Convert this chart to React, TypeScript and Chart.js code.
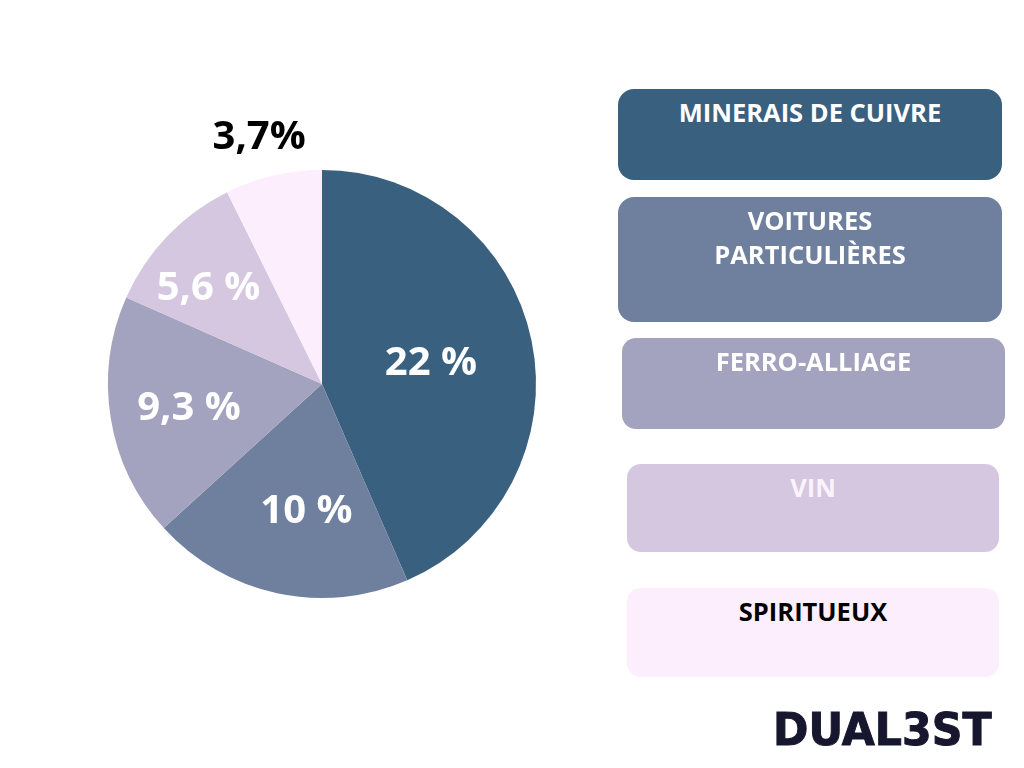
import React, { useEffect, useRef } from "react";
import { Chart, registerables } from "chart.js";

Chart.register(...registerables);

const categories = ["MINERAIS DE CUIVRE", "VOITURES PARTICULIÈRES", "FERRO-ALLIAGE", "VIN", "SPIRITUEUX"];
const legendLines = [["MINERAIS DE CUIVRE"], ["VOITURES", "PARTICULIÈRES"], ["FERRO-ALLIAGE"], ["VIN"], ["SPIRITUEUX"]];
const values = [22, 10, 9.3, 5.6, 3.7];
const valueLabels = ["22 %", "10 %", "9,3 %", "5,6 %", "3,7%"];
const colors = ["#3a607f", "#6f7f9e", "#a3a2bf", "#d5c7e0", "#fdeefd"];
const labelColors = ["#ffffff", "#ffffff", "#ffffff", "#ffffff", "#000000"];
const labelRadiusFactor = [0.52, 0.59, 0.63, 0.7, 1.2];
const labelAngleShiftDeg = [0, -5, 0, -3, -1];
const legendTextColors = ["#ffffff", "#ffffff", "#ffffff", "#fbf3fb", "#000000"];

const legendBoxes = [
  { left: 618, top: 89, width: 384, height: 91, radius: 16 },
  { left: 618, top: 197, width: 384, height: 125, radius: 16 },
  { left: 622, top: 338, width: 383, height: 91, radius: 14 },
  { left: 627, top: 464, width: 372, height: 88, radius: 14 },
  { left: 627, top: 588, width: 372, height: 89, radius: 14 },
];

const FONT = "'Open Sans', 'Noto Sans', sans-serif";

const labelPlugin = {
  id: "sliceLabels",
  afterDatasetsDraw(chart: any) {
    const ctx = chart.ctx;
    const meta = chart.getDatasetMeta(0);
    ctx.save();
    ctx.font = `700 40px ${FONT}`;
    ctx.textAlign = "center";
    ctx.textBaseline = "alphabetic";
    meta.data.forEach((arc: any, i: number) => {
      const { x, y, startAngle, endAngle, outerRadius } = arc.getProps(
        ["x", "y", "startAngle", "endAngle", "outerRadius"],
        true
      );
      const mid = (startAngle + endAngle) / 2 + (labelAngleShiftDeg[i] * Math.PI) / 180;
      const r = outerRadius * labelRadiusFactor[i];
      ctx.fillStyle = labelColors[i];
      ctx.fillText(valueLabels[i], x + Math.cos(mid) * r, y + Math.sin(mid) * r + 14);
    });
    ctx.restore();
  },
};

export default function App() {
  const canvasRef = useRef<HTMLCanvasElement | null>(null);

  useEffect(() => {
    if (!canvasRef.current) return;
    const chart = new Chart(canvasRef.current, {
      type: "pie",
      data: {
        labels: categories,
        datasets: [
          {
            data: values,
            backgroundColor: colors,
            borderWidth: 0,
          },
        ],
      },
      options: {
        responsive: false,
        animation: false,
        layout: { padding: { left: 108, right: 488, top: 170, bottom: 170 } },
        plugins: {
          legend: { display: false },
          tooltip: { enabled: false },
        },
      },
      plugins: [labelPlugin],
    });
    return () => chart.destroy();
  }, []);

  return (
    <div
      style={{
        position: "absolute",
        left: 0,
        top: 0,
        width: 1024,
        height: 768,
        background: "#ffffff",
        overflow: "hidden",
        fontFamily: FONT,
      }}
    >
      <canvas ref={canvasRef} width={1024} height={768} style={{ position: "absolute", left: 0, top: 0 }} />
      {legendBoxes.map((b, i) => (
        <div
          key={i}
          style={{
            position: "absolute",
            left: b.left,
            top: b.top,
            width: b.width,
            height: b.height,
            borderRadius: b.radius,
            background: colors[i],
            color: legendTextColors[i],
            fontWeight: 700,
            fontSize: 25.5,
            lineHeight: "34px",
            textAlign: "center",
            paddingTop: 6,
            boxSizing: "border-box",
          }}
        >
          {legendLines[i].map((l, j) => (
            <div key={j}>{l}</div>
          ))}
        </div>
      ))}
      <div
        style={{
          position: "absolute",
          left: 773,
          top: 704,
          fontFamily: "'DejaVu Sans', sans-serif",
          fontWeight: 700,
          fontSize: 44,
          color: "#16162e",
          whiteSpace: "nowrap",
          transform: "scaleX(0.97)",
          transformOrigin: "left top",
          WebkitTextStroke: "1px #16162e",
        }}
      >
        DUAL3ST
      </div>
    </div>
  );
}
